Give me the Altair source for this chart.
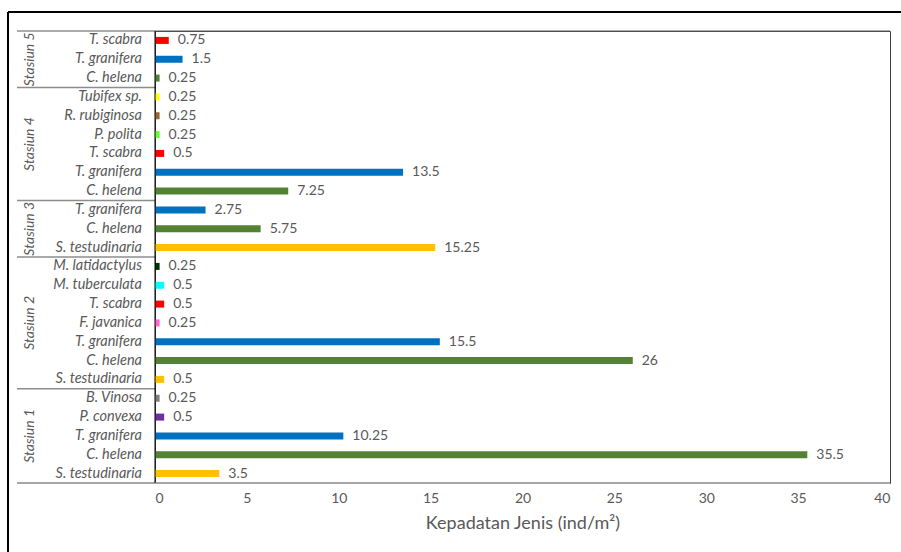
import altair as alt
import pandas as pd

# Species density per sampling station (ind/m²), listed top to bottom
stations = ["Stasiun 5"] * 3 + ["Stasiun 4"] * 6 + ["Stasiun 3"] * 3 + ["Stasiun 2"] * 7 + ["Stasiun 1"] * 5
species = [
    "T. scabra", "T. granifera", "C. helena",
    "Tubifex sp.", "R. rubiginosa", "P. polita", "T. scabra", "T. granifera", "C. helena",
    "T. granifera", "C. helena", "S. testudinaria",
    "M. latidactylus", "M. tuberculata", "T. scabra", "F. javanica", "T. granifera", "C. helena", "S. testudinaria",
    "B. Vinosa", "P. convexa", "T. granifera", "C. helena", "S. testudinaria",
]
values = [
    0.75, 1.5, 0.25,
    0.25, 0.25, 0.25, 0.5, 13.5, 7.25,
    2.75, 5.75, 15.25,
    0.25, 0.5, 0.5, 0.25, 15.5, 26, 0.5,
    0.25, 0.5, 10.25, 35.5, 3.5,
]
species_colors = {
    "T. scabra": "#FF0000",
    "T. granifera": "#0070C0",
    "C. helena": "#548235",
    "Tubifex sp.": "#FFFF00",
    "R. rubiginosa": "#996633",
    "P. polita": "#66FF33",
    "S. testudinaria": "#FFC000",
    "M. latidactylus": "#003300",
    "M. tuberculata": "#00FFFF",
    "F. javanica": "#FF66CC",
    "B. Vinosa": "#808080",
    "P. convexa": "#7030A0",
}
x_ticks = [0, 5, 10, 15, 20, 25, 30, 35, 40]

FONT = "Lato"
GREY_TEXT = "#595959"
W, H = 735, 452
X_MAX = 40
N = len(species)


def px_x(p):
    """Horizontal pixel offset from the plot's left edge, in x-scale units."""
    return p * X_MAX / W


def px_y(p):
    """Vertical pixel offset from the plot's top edge, in row units."""
    return -0.5 + p * N / H


df = pd.DataFrame({
    "row": list(range(N)),
    "station": stations,
    "species": species,
    "value": values,
})
df["color"] = df["species"].map(species_colors)
df["label"] = df["value"].map(lambda v: f"{v:g}")

# station groups: centre row for the rotated label, boundaries for separators
groups = (
    df.groupby("station", sort=False)["row"]
    .agg(["min", "max"])
    .reset_index()
)
groups["mid"] = (groups["min"] + groups["max"]) / 2
inner_bounds = pd.DataFrame({"b": [float(m) + 0.5 for m in groups["max"].iloc[:-1]]})
top_bound = pd.DataFrame({"b": [float(groups["min"].min()) - 0.5]})
bottom_bound = pd.DataFrame({"b": [float(groups["max"].max()) + 0.5]})

y_scale = alt.Scale(domain=[-0.5, N - 0.5], reverse=True, nice=False, zero=False, padding=0)
x_scale = alt.Scale(domain=[0, X_MAX], nice=False, padding=0)

# one shared axis definition so every layer agrees on the x axis
x_axis = alt.Axis(values=x_ticks, grid=False, ticks=False, domain=False,
                  labelColor=GREY_TEXT, labelFontSize=14, labelFont=FONT,
                  labelPadding=8, title="Kepadatan Jenis (ind/m²)",
                  titleFont=FONT, titleFontSize=18, titleFontWeight="normal",
                  titleColor=GREY_TEXT, titlePadding=9)

base = alt.Chart(df)

bars = base.mark_bar(orient="horizontal", size=7).encode(
    x=alt.X("value:Q", scale=x_scale, axis=x_axis),
    y=alt.Y("row:Q", scale=y_scale, axis=None),
    color=alt.Color("color:N", scale=None, legend=None),
)

value_labels = base.mark_text(align="left", baseline="middle", dx=9, font=FONT,
                              fontSize=14, color=GREY_TEXT).encode(
    x=alt.X("value:Q", scale=x_scale, axis=x_axis),
    y=alt.Y("row:Q", scale=y_scale, axis=None),
    text="label:N",
)

species_labels = base.mark_text(align="right", baseline="middle", font=FONT, fontSize=14.5,
                                fontStyle="italic", color=GREY_TEXT).encode(
    x=alt.value(-13), y=alt.Y("row:Q", scale=y_scale, axis=None), text="species:N",
)

station_labels = alt.Chart(groups).mark_text(angle=270, align="center", baseline="middle",
                                             font=FONT, fontSize=14, fontStyle="italic",
                                             color=GREY_TEXT).encode(
    x=alt.value(-125), y=alt.Y("mid:Q", scale=y_scale, axis=None), text="station:N",
)


def hrule(data, x0, x1, yfield, color, width, extra=None):
    calc = {"x0": str(x0), "x1": str(x1)}
    if extra:
        calc.update(extra)
    return (
        alt.Chart(data)
        .transform_calculate(**calc)
        .mark_rule(color=color, strokeWidth=width)
        .encode(
            x=alt.X("x0:Q", scale=x_scale, axis=x_axis),
            x2="x1:Q",
            y=alt.Y(f"{yfield}:Q", scale=y_scale, axis=None),
        )
    )


def vrule(data, x0, y0, y1, color, width):
    return (
        alt.Chart(data)
        .transform_calculate(xv=str(x0), y0=str(y0), y1=str(y1))
        .mark_rule(color=color, strokeWidth=width)
        .encode(
            x=alt.X("xv:Q", scale=x_scale, axis=x_axis),
            y=alt.Y("y0:Q", scale=y_scale, axis=None),
            y2="y1:Q",
        )
    )


# group separators under the labels, plus the top and bottom frame lines
separators = hrule(inner_bounds, px_x(-138), 0, "b", "#8C8C8C", 1.5)
top_line = hrule(top_bound, px_x(-138), X_MAX, "b", "#595959", 1)
bottom_line = hrule(bottom_bound, px_x(-138), X_MAX, "b", "#A6A6A6", 2)

# left axis line
axis_line = vrule(top_bound, 0, -0.5, N - 0.5, "black", 1)

# outer chart border: top and left edges
border_top = hrule(top_bound, px_x(-147), px_x(780), "yb", "black", 2,
                   extra={"yb": str(px_y(-19))})
border_left = vrule(top_bound, px_x(-147), px_y(-19), px_y(560), "black", 2)

chart = (
    alt.layer(border_top, border_left, separators, bottom_line, top_line,
              bars, value_labels, species_labels, station_labels, axis_line)
    .properties(width=W, height=H, background="white",
                padding={"left": 155, "top": 31, "right": 11, "bottom": 69},
                autosize=alt.AutoSizeParams(type="none"))
    .configure_view(stroke="#404040", strokeWidth=1)
)

chart.save("out.html", embed_options={"renderer": "svg", "actions": False})
